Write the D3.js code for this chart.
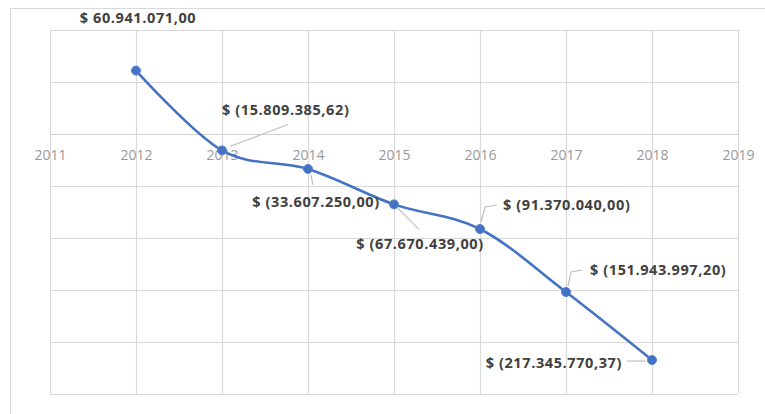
<!DOCTYPE html>
<html>
<head>
<meta charset="utf-8">
<script src="https://cdn.jsdelivr.net/npm/d3@7/dist/d3.min.js"></script>
<style>
  html, body { margin: 0; padding: 0; background: #fff; }
  svg { display: block; }
</style>
</head>
<body>
<svg id="chart" width="765" height="414"></svg>
<script>
// Yearly result series
const years = [2012, 2013, 2014, 2015, 2016, 2017, 2018];
const values = [60941071.00, -15809385.62, -33607250.00, -67670439.00, -91370040.00, -151943997.20, -217345770.37];
const labels = [
  "$ 60.941.071,00",
  "$ (15.809.385,62)",
  "$ (33.607.250,00)",
  "$ (67.670.439,00)",
  "$ (91.370.040,00)",
  "$ (151.943.997,20)",
  "$ (217.345.770,37)"
];
const xTicks = [2011, 2012, 2013, 2014, 2015, 2016, 2017, 2018, 2019];
const yTicks = [100e6, 50e6, 0, -50e6, -100e6, -150e6, -200e6, -250e6];

// Data label placement relative to each marker: text offset, anchor, leader line points
const labelLayout = [
  { dx: 2,   dy: -53, anchor: "middle", leader: null },
  { dx: 0,   dy: -41, anchor: "start",  leader: [[8, -4], [66, -26]] },
  { dx: 8,   dy: 33,  anchor: "middle", leader: [[3, 6], [5, 16]] },
  { dx: 26,  dy: 40,  anchor: "middle", leader: [[3, 3], [25, 25]] },
  { dx: 23,  dy: -24, anchor: "start",  leader: [[1, -7], [5, -22], [17, -24]] },
  { dx: 24,  dy: -22, anchor: "start",  leader: [[2, -6], [5, -20], [16, -22]] },
  { dx: -30, dy: 3,   anchor: "end",    leader: [[-25, 1], [-6, 1]] }
];

const svg = d3.select("#chart");
const plot = { left: 50, right: 738, top: 30, bottom: 394 };

const x = d3.scaleLinear().domain([2011, 2019]).range([plot.left, plot.right]);
const y = d3.scaleLinear().domain([-250e6, 100e6]).range([plot.bottom, plot.top]);

// Chart frame edges
svg.append("line").attr("x1", 10).attr("x2", 765).attr("y1", 8.5).attr("y2", 8.5)
  .attr("stroke", "#d9d9d9").attr("stroke-width", 1);
svg.append("line").attr("x1", 10.5).attr("x2", 10.5).attr("y1", 8).attr("y2", 414)
  .attr("stroke", "#d9d9d9").attr("stroke-width", 1);

// Horizontal gridlines
svg.append("g")
  .attr("transform", `translate(${plot.left},0)`)
  .call(d3.axisLeft(y).tickValues(yTicks).tickSize(-(plot.right - plot.left)).tickFormat(""))
  .call(g => g.select(".domain").remove())
  .call(g => g.selectAll(".tick line").attr("stroke", "#d9d9d9").attr("stroke-width", 1.2));

// Vertical gridlines
svg.append("g")
  .attr("transform", `translate(0,${plot.bottom})`)
  .call(d3.axisBottom(x).tickValues(xTicks).tickSize(-(plot.bottom - plot.top)).tickFormat(""))
  .call(g => g.select(".domain").remove())
  .call(g => g.selectAll(".tick line").attr("stroke", "#d9d9d9").attr("stroke-width", 1.2));

// Category axis along zero
svg.append("g")
  .attr("transform", `translate(0,${y(0)})`)
  .call(d3.axisBottom(x).tickValues(xTicks).tickSize(0).tickPadding(16).tickFormat(d3.format("d")))
  .call(g => g.select(".domain").attr("stroke", "#d0d0d0"))
  .call(g => g.selectAll("text")
    .attr("fill", "#999999")
    .attr("font-family", "'Open Sans', Lato, sans-serif")
    .attr("font-size", 14));

const pts = years.map((yr, i) => ({ yr, v: values[i], label: labels[i], layout: labelLayout[i] }));

// Leader lines
svg.append("g").selectAll("path")
  .data(pts.filter(d => d.layout.leader))
  .join("path")
  .attr("d", d => d3.line()(d.layout.leader.map(p => [x(d.yr) + p[0], y(d.v) + p[1]])))
  .attr("fill", "none")
  .attr("stroke", "#bfbfbf")
  .attr("stroke-width", 1.2);

// Smoothed series line
svg.append("path")
  .datum(pts)
  .attr("d", d3.line().x(d => x(d.yr)).y(d => y(d.v)).curve(d3.curveCatmullRom.alpha(0)))
  .attr("fill", "none")
  .attr("stroke", "#4472c4")
  .attr("stroke-width", 2.6)
  .attr("stroke-linejoin", "round");

// Markers
svg.append("g").selectAll("circle")
  .data(pts)
  .join("circle")
  .attr("cx", d => x(d.yr))
  .attr("cy", d => y(d.v))
  .attr("r", 4.5)
  .attr("fill", "#4472c4")
  .attr("stroke", "#5b82cc")
  .attr("stroke-width", 1);

// Data labels
svg.append("g").selectAll("text")
  .data(pts)
  .join("text")
  .attr("x", d => x(d.yr) + d.layout.dx)
  .attr("y", d => y(d.v) + d.layout.dy)
  .attr("dy", "0.35em")
  .attr("text-anchor", d => d.layout.anchor)
  .attr("fill", "#404040")
  .attr("font-family", "'Open Sans', Lato, sans-serif")
  .attr("font-weight", "bold")
  .attr("font-size", 14.5)
  .attr("letter-spacing", 0.6)
  .text(d => d.label);
</script>
</body>
</html>
